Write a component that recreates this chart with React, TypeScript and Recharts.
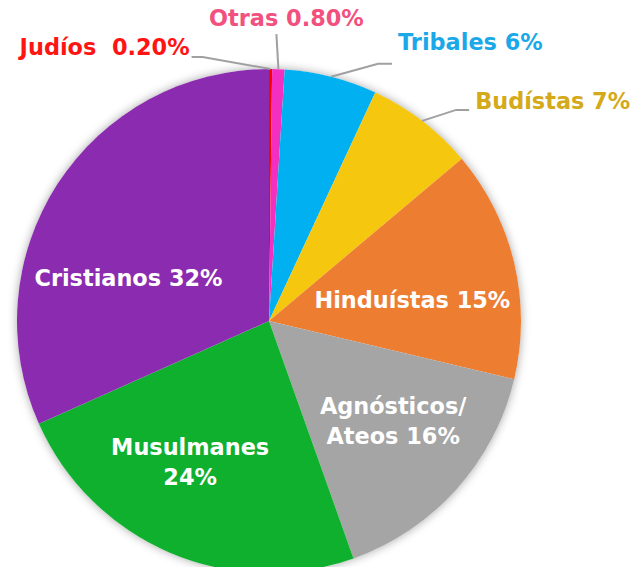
import { PieChart, Pie, Cell } from "recharts";

const names = ["Judíos", "Otras", "Tribales", "Budístas", "Hinduístas", "Agnósticos/ Ateos", "Musulmanes", "Cristianos"];
const values = [0.2, 0.8, 6, 7, 15, 16, 24, 32];
const labels = ["0.20%", "0.80%", "6%", "7%", "15%", "16%", "24%", "32%"];
const colors = ["#FF0000", "#F22FC0", "#00B0F0", "#F5C70F", "#ED7D31", "#A5A5A5", "#10B02F", "#8B2CB0"];

const data = names.map((name, i) => ({ name, value: values[i], label: labels[i] }));

const RAD = Math.PI / 180;
const FONT = "'DejaVu Sans', Verdana, sans-serif";
const FS = 22.4;

// labels inside the slices: radius fraction, angle nudge, lines
const inner: Record<string, { r: number; rot: number; lines: (l: string) => string[] }> = {
  "Hinduístas": { r: 0.575, rot: -5, lines: (l) => [`Hinduístas ${l}`] },
  "Agnósticos/ Ateos": { r: 0.633, rot: 3, lines: (l) => ["Agnósticos/", `Ateos ${l}`] },
  "Musulmanes": { r: 0.642, rot: -6, lines: (l) => ["Musulmanes", l] },
  "Cristianos": { r: 0.583, rot: 16, lines: (l) => [`Cristianos ${l}`] },
};

// labels outside with leader lines
const outer: Record<string, { ex: number; ey: number; h: number; tx: number; ty: number; anchor: "start" | "end" | "middle"; color: string; text: (l: string) => string }> = {
  "Judíos": { ex: -68, ey: -12, h: -11, tx: -2, ty: -2, anchor: "end", color: "#FF1414", text: (l) => `Judíos\u00a0\u00a0${l}` },
  "Otras": { ex: -2, ey: -35, h: 0, tx: 10, ty: -8, anchor: "middle", color: "#F2507E", text: (l) => `Otras ${l}` },
  "Tribales": { ex: 47, ey: -13, h: 14, tx: 6, ty: -14, anchor: "start", color: "#1AA8E8", text: (l) => `Tribales ${l}` },
  "Budístas": { ex: 34, ey: -11, h: 13, tx: 6, ty: -1, anchor: "start", color: "#D4A91A", text: (l) => `Budístas ${l}` },
};

const renderLabel = (props: any) => {
  const { cx, cy, midAngle, outerRadius, payload, name } = props;
  const key = payload?.name ?? name;
  const lbl = payload?.label;
  const inn = inner[key];
  if (inn) {
    const a = (midAngle + inn.rot) * RAD;
    const r = outerRadius * inn.r;
    const x = cx + r * Math.cos(a);
    const y = cy - r * Math.sin(a);
    const lines = inn.lines(lbl);
    const lh = 30;
    return (
      <text x={x} y={y} textAnchor="middle" fill="#fff" fontFamily={FONT} fontWeight="bold" fontSize={FS}>
        {lines.map((t, i) => (
          <tspan key={i} x={x} y={y + (i - (lines.length - 1) / 2) * lh} dy="0.36em">{t}</tspan>
        ))}
      </text>
    );
  }
  const o = outer[key];
  if (!o) return null;
  const a = midAngle * RAD;
  const sx = cx + outerRadius * Math.cos(a);
  const sy = cy - outerRadius * Math.sin(a);
  const mx = sx + o.ex;
  const my = sy + o.ey;
  const lx = mx + o.h;
  return (
    <g>
      <polyline points={`${sx},${sy} ${mx},${my} ${lx},${my}`} fill="none" stroke="#A0A0A0" strokeWidth={2} />
      <text x={lx + o.tx} y={my + o.ty} textAnchor={o.anchor} fill={o.color} fontFamily={FONT} fontWeight="bold" fontSize={FS}>
        {o.text(lbl)}
      </text>
    </g>
  );
};

export default function App() {
  return (
    <div style={{ width: 641, height: 575, margin: -8, background: "#fff" }}>
      <PieChart width={641} height={575} margin={{ top: 0, right: 0, bottom: 0, left: 0 }}>
        <Pie
          data={[{ name: "bg", value: 1 }]}
          dataKey="value"
          cx={269}
          cy={321}
          outerRadius={252}
          stroke="none"
          isAnimationActive={false}
          label={false}
          labelLine={false}
        >
          <Cell fill="#fff" style={{ filter: "drop-shadow(0px 0px 5px rgba(0,0,0,0.35))" }} />
        </Pie>
        <Pie
          data={data}
          dataKey="value"
          nameKey="name"
          cx={269}
          cy={321}
          outerRadius={252}
          startAngle={90}
          endAngle={-270}
          stroke="none"
          isAnimationActive={false}
          labelLine={false}
          label={renderLabel}
        >
          {data.map((d, i) => (
            <Cell key={d.name} fill={colors[i]} />
          ))}
        </Pie>
      </PieChart>
    </div>
  );
}
